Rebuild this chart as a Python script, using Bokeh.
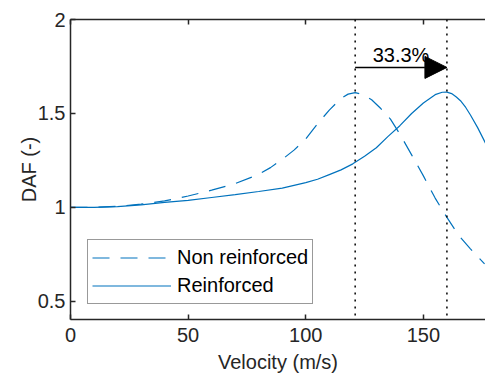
from bokeh.plotting import figure
from bokeh.models import (LinearAxis, FixedTicker, Range1d, Legend, LegendItem,
                          Arrow, NormalHead, Label)
from bokeh.embed import file_html
from bokeh.resources import INLINE

# ---- data ----
vel_non = [0, 10, 20, 30, 40, 50, 60, 70, 80, 85, 90, 95, 100, 105, 110, 115,
           118, 121, 124, 128, 132, 136, 140, 145, 150, 155, 160, 165, 170, 176]
daf_non = [1.0, 1.001, 1.006, 1.018, 1.035, 1.061, 1.092, 1.127, 1.176, 1.212,
           1.256, 1.305, 1.365, 1.445, 1.518, 1.58, 1.603, 1.611, 1.601, 1.573,
           1.525, 1.47, 1.39, 1.28, 1.168, 1.05, 0.947, 0.852, 0.78, 0.70]

vel_rein = [0, 10, 20, 30, 40, 50, 60, 70, 80, 90, 100, 105, 110, 115, 120, 125,
            130, 135, 140, 145, 150, 155, 158, 160, 162, 164, 166, 168, 170,
            173, 176.4]
daf_rein = [1.0, 1.001, 1.004, 1.014, 1.027, 1.038, 1.053, 1.068, 1.085, 1.103,
            1.132, 1.15, 1.175, 1.2, 1.232, 1.272, 1.318, 1.378, 1.435, 1.50,
            1.556, 1.60, 1.613, 1.614, 1.606, 1.588, 1.565, 1.532, 1.492,
            1.426, 1.342]

peak_velocities = [121, 160]
increase_label = "33.3%"
x_ticks = [0, 50, 100, 150]
y_ticks = [0.5, 1, 1.5, 2]
series_names = ["Non reinforced", "Reinforced"]

BLUE = "#0072BD"
DARK = "#262626"
FONT = "Liberation Sans"
FS = "20px"

p = figure(width=485, height=376, output_backend="svg", toolbar_location=None,
           x_range=Range1d(0, 176.4), y_range=Range1d(0.404, 2.0),
           min_border_left=70, min_border_right=0, min_border_top=19,
           min_border_bottom=57, background_fill_color="white",
           border_fill_color="white", outline_line_color=None)
p.grid.visible = False

r_non = p.line(vel_non, daf_non, line_color=BLUE, line_width=1.2,
               line_dash="17 11")
r_rein = p.line(vel_rein, daf_rein, line_color=BLUE, line_width=1.2)

for ax in (p.xaxis[0], p.yaxis[0]):
    ax.axis_line_color = DARK
    ax.axis_line_width = 1.5
    ax.major_tick_line_color = DARK
    ax.major_tick_line_width = 1.5
    ax.major_tick_in = 5
    ax.major_tick_out = 0
    ax.minor_tick_line_color = None
    ax.major_label_text_font = FONT
    ax.major_label_text_font_size = FS
    ax.major_label_text_color = DARK
    ax.axis_label_text_font = FONT
    ax.axis_label_text_font_size = FS
    ax.axis_label_text_font_style = "normal"
    ax.axis_label_text_color = DARK

p.xaxis[0].ticker = FixedTicker(ticks=x_ticks)
p.yaxis[0].ticker = FixedTicker(ticks=y_ticks)
p.xaxis[0].major_label_overrides = {v: str(v) for v in x_ticks}
p.yaxis[0].major_label_overrides = {v: ("%g" % v) for v in y_ticks}
p.xaxis[0].axis_label = "Velocity (m/s)"
p.yaxis[0].axis_label = "DAF (-)"
p.xaxis[0].major_label_standoff = 8
p.xaxis[0].axis_label_standoff = 6
p.yaxis[0].major_label_standoff = 5
p.yaxis[0].axis_label_standoff = -5

# box-style top edge with inward ticks, no labels
top = LinearAxis(ticker=FixedTicker(ticks=x_ticks), axis_line_color=DARK,
                 axis_line_width=1.5, major_tick_line_color=DARK,
                 major_tick_line_width=1.5, major_tick_in=5, major_tick_out=0,
                 minor_tick_line_color=None, major_label_text_font_size="0px",
                 major_label_overrides={v: "" for v in x_ticks},
                 major_label_standoff=0)
p.add_layout(top, "above")

# dotted vertical markers at the two peaks
for v in peak_velocities:
    p.add_layout(Arrow(end=None, x_start=v, y_start=2.0, x_end=v, y_end=0.33,
                       line_color="black", line_width=1.5, line_dash="2 5"))

# arrow showing shift
p.add_layout(Arrow(end=NormalHead(size=22, fill_color="black", line_color="black"),
                   x_start=peak_velocities[0], y_start=1.745,
                   x_end=peak_velocities[1], y_end=1.745,
                   line_color="black", line_width=1.5))
p.add_layout(Label(x=(peak_velocities[0] + peak_velocities[1]) / 2, y=1.81,
                   text=increase_label, text_align="center",
                   text_baseline="alphabetic", text_font=FONT,
                   text_font_size=FS, text_color="black"))

legend = Legend(items=[LegendItem(label=series_names[0], renderers=[r_non]),
                       LegendItem(label=series_names[1], renderers=[r_rein])],
                location=(17, 15), padding=4, spacing=1, glyph_height=27,
                label_height=27, glyph_width=79, label_standoff=6,
                label_text_font=FONT, label_text_font_size=FS,
                label_text_color="black", border_line_color="#333333",
                border_line_width=1, background_fill_color="white",
                background_fill_alpha=1, margin=0)
p.add_layout(legend, "center")

open("out.html", "w").write(file_html(p, INLINE))
